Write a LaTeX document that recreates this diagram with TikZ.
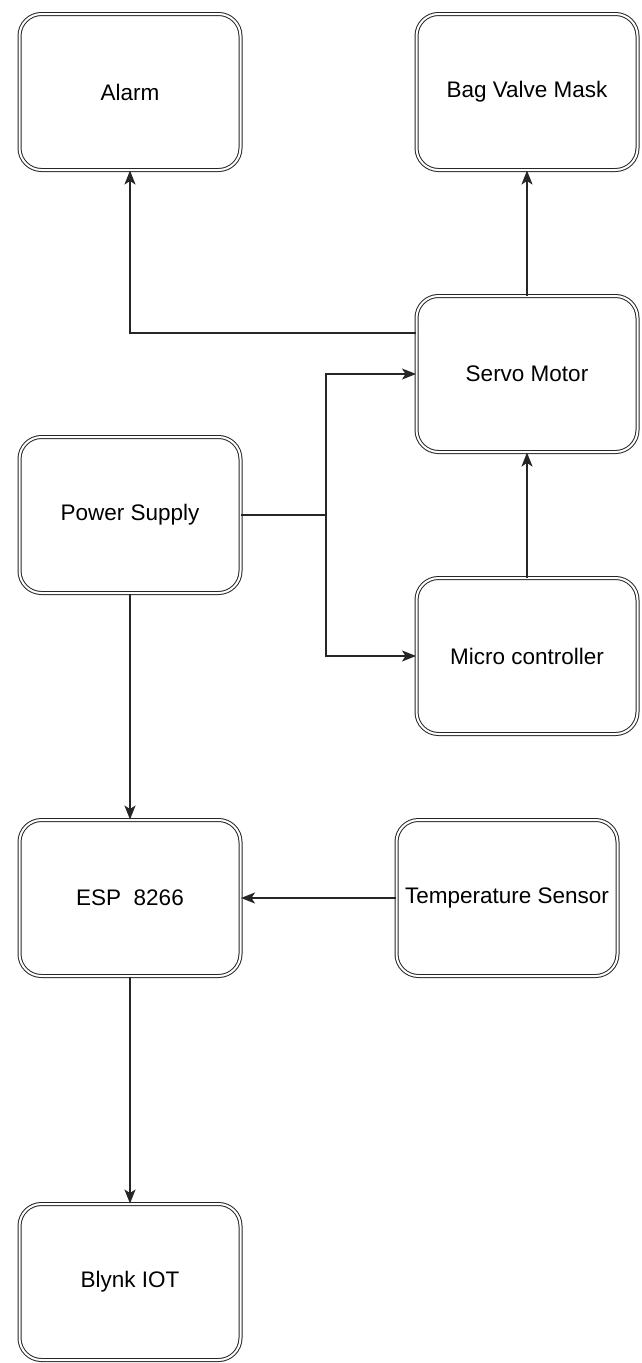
\documentclass[tikz,border=0pt]{standalone}
\usepackage{fontspec}
\setmainfont{Liberation Sans}
\usetikzlibrary{arrows.meta,calc,positioning}

\begin{document}
\begin{tikzpicture}[x=1pt, y=1pt,
  box/.style={draw=black!85, double, double distance=2pt, line width=1pt,
    rounded corners=22pt, minimum width=221pt, minimum height=156pt,
    align=center, font=\fontsize{22.5}{27}\selectfont},
  arr/.style={-{Stealth[length=14pt,width=11pt,inset=3.5pt]}, line width=1.5pt, black!85},
  wire/.style={line width=1.5pt, black!85}]

\useasboundingbox (0,0) rectangle (642,-1363);

\node[box] (alarm) at (130,-92) {Alarm};
\node[box, right=175pt of alarm] (bvm) {Bag Valve Mask};
\node[box, below=125pt of bvm] (servo) {Servo Motor};
\node[box, below=125pt of servo] (micro) {Micro controller};
\node[box, below=266pt of alarm] (power) {Power Supply};
\node[box, below=226pt of power] (esp) {ESP\ \ 8266};
\node[box, below=227pt of esp] (blynk) {Blynk IOT};
\node[box, right=155pt of esp] (temp) {Temperature Sensor};

% Servo verso alarm e maschera
\draw[arr] ([yshift=41pt]servo.west) -| (alarm.south);
\draw[arr] (servo.north) -- (bvm.south);
\draw[arr] (micro.north) -- (servo.south);

% Alimentazione
\coordinate (split) at ($(power.east)+(85,0)$);
\draw[wire] (power.east) -- (split);
\draw[arr] (split) |- (servo.west);
\draw[arr] (split) |- (micro.west);
\draw[arr] (power.south) -- (esp.north);

% ESP
\draw[arr] (temp.west) -- (esp.east);
\draw[arr] (esp.south) -- (blynk.north);

\end{tikzpicture}
\end{document}
